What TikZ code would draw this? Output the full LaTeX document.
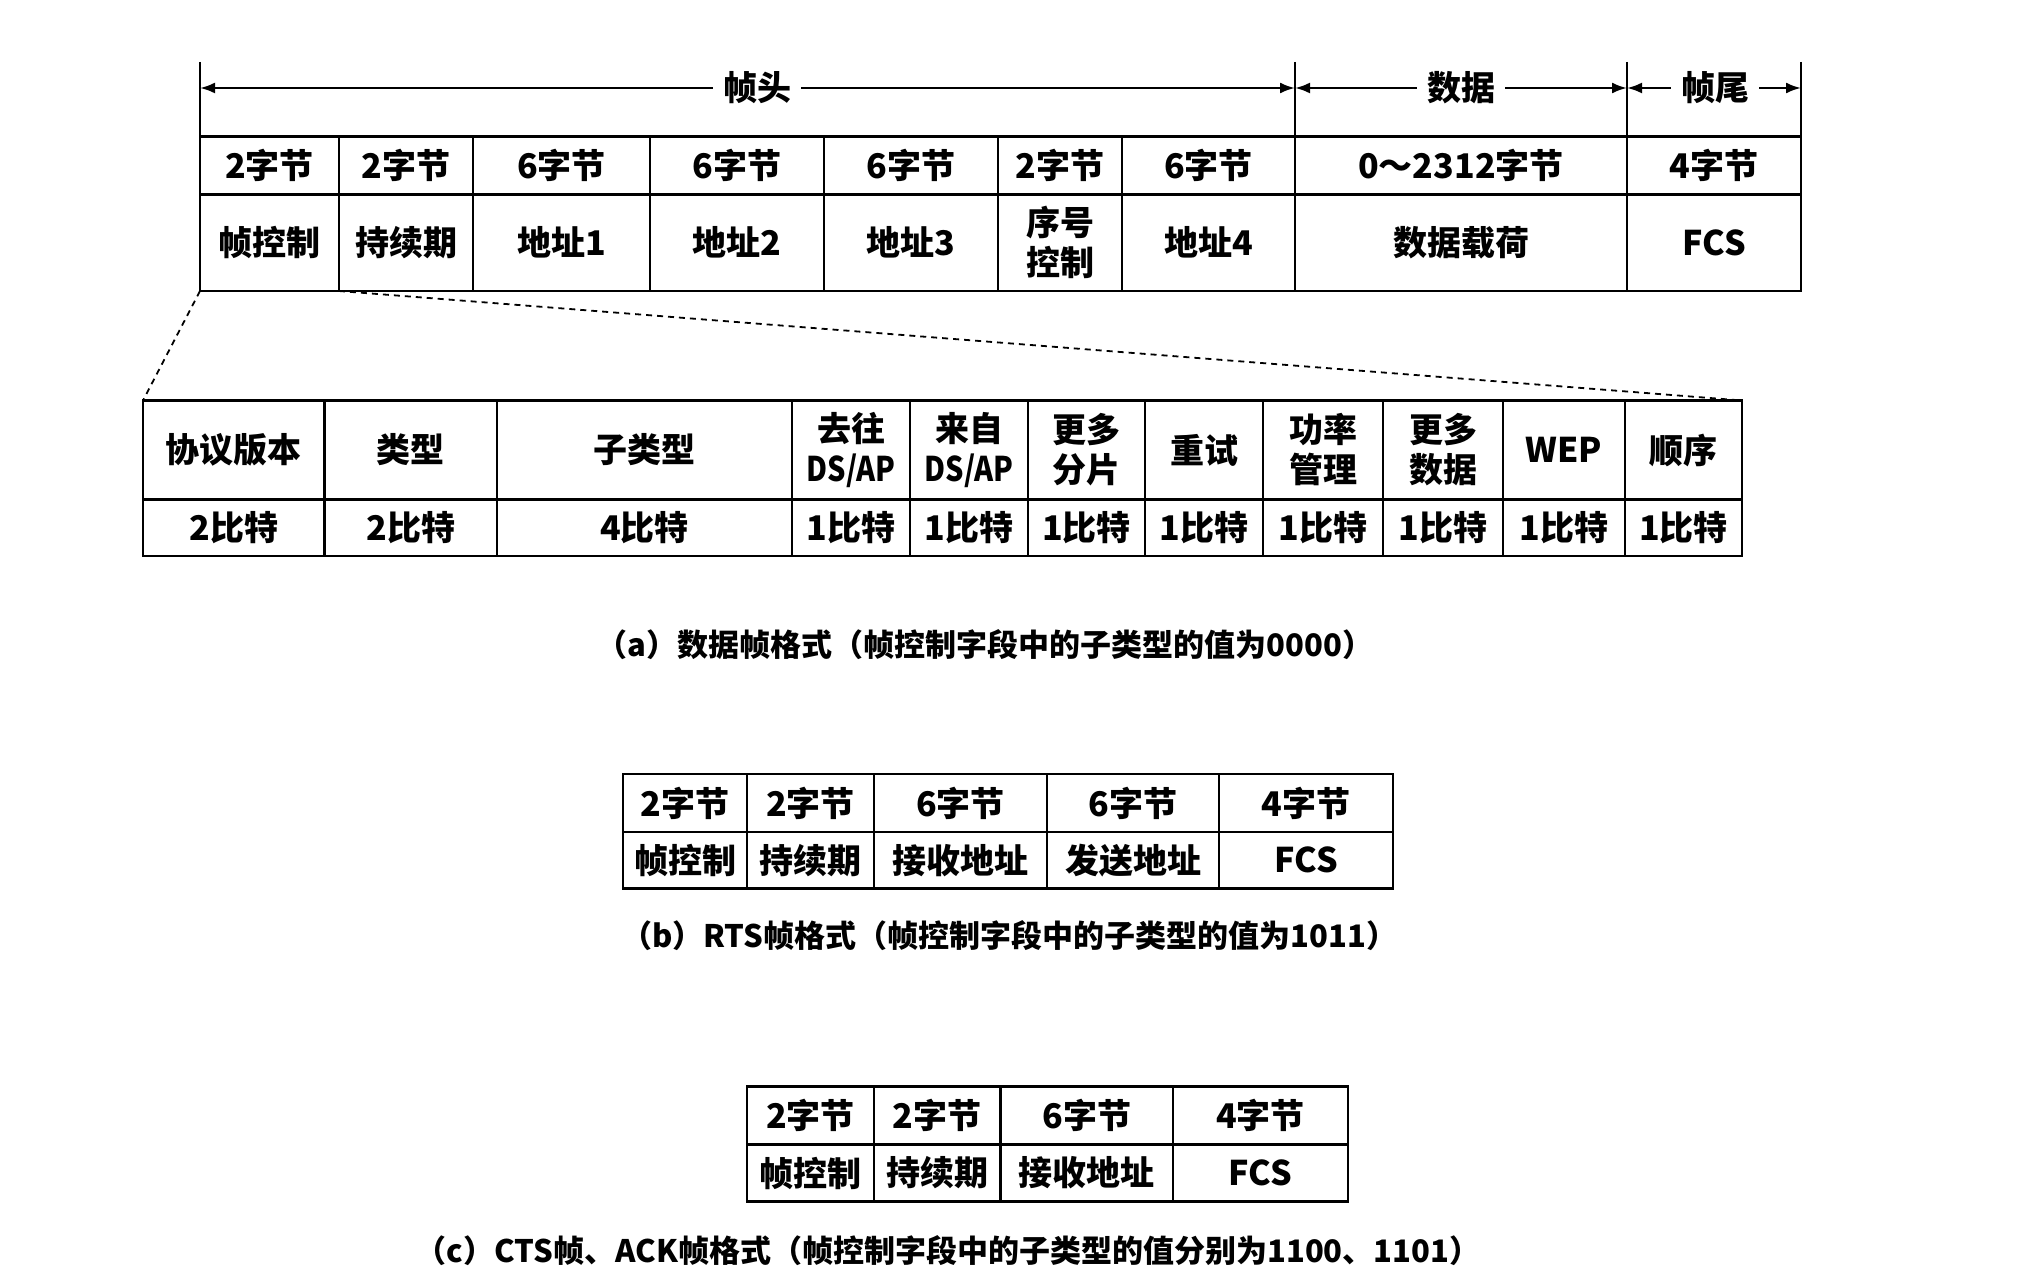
\documentclass[tikz,border=0pt]{standalone}
\usepackage{fontspec}
\setmainfont{Noto Sans CJK SC}
\usetikzlibrary{arrows.meta}
\newcommand\cellfont{\fontsize{17pt}{20pt}\selectfont\bfseries}
\newcommand\capfont{\fontsize{15.5pt}{18pt}\selectfont\bfseries}
\newcommand\narrowtxt[1]{\scalebox{0.85}[1]{#1}}
\tikzset{
  cellbox/.style={draw, line width=1.3pt, inner sep=0pt, outer sep=0pt, align=center, font=\cellfont},
  dimline/.style={line width=1.2pt, -{Latex[length=7.5pt,width=5.5pt]}},
  guide/.style={line width=1.1pt},
  zoomline/.style={line width=0.9pt, dash pattern=on 3pt off 2.5pt},
  dimlabel/.style={fill=white, inner xsep=5pt, inner ysep=2pt, font=\cellfont},
  captext/.style={font=\capfont, inner sep=0pt}
}
\newcommand\fcell[6]{\node[cellbox, minimum width={(#4-#2)*0.5pt}, minimum height={(#5-#3)*0.5pt}] (#1) at ({(#2+#4)/2},{(#3+#5)/2}) {#6};}
\begin{document}
\begin{tikzpicture}[x=0.5pt,y=-0.5pt]
\useasboundingbox[fill=white] (0,0) rectangle (2019,1279);

% ---------- top table ----------
\fcell{a1t}{200}{136.5}{339}{194.4}{2字节}
\fcell{a2t}{339}{136.5}{473}{194.4}{2字节}
\fcell{a3t}{473}{136.5}{650}{194.4}{6字节}
\fcell{a4t}{650}{136.5}{824}{194.4}{6字节}
\fcell{a5t}{824}{136.5}{998}{194.4}{6字节}
\fcell{a6t}{998}{136.5}{1122}{194.4}{2字节}
\fcell{a7t}{1122}{136.5}{1295}{194.4}{6字节}
\fcell{a8t}{1295}{136.5}{1627}{194.4}{0～2312字节}
\fcell{a9t}{1627}{136.5}{1801}{194.4}{4字节}
\fcell{a1b}{200}{194.4}{339}{291}{帧控制}
\fcell{a2b}{339}{194.4}{473}{291}{持续期}
\fcell{a3b}{473}{194.4}{650}{291}{地址1}
\fcell{a4b}{650}{194.4}{824}{291}{地址2}
\fcell{a5b}{824}{194.4}{998}{291}{地址3}
\fcell{a6b}{998}{194.4}{1122}{291}{序号\\控制}
\fcell{a7b}{1122}{194.4}{1295}{291}{地址4}
\fcell{a8b}{1295}{194.4}{1627}{291}{数据载荷}
\fcell{a9b}{1627}{194.4}{1801}{291}{FCS}

% boundary guides
\coordinate (g0) at (200,62);
\coordinate (g1) at (1295,62);
\coordinate (g2) at (1627,62);
\coordinate (g3) at (1801,62);
\draw[guide] (g0) -- (a1t.north west);
\draw[guide] (g1) -- (a8t.north west);
\draw[guide] (g2) -- (a9t.north west);
\draw[guide] (g3) -- (a9t.north east);

% dimension arrows
\node[dimlabel] (lhead) at (757,88) {帧头};
\node[dimlabel] (ldata) at (1461,88) {数据};
\node[dimlabel] (ltail) at (1715,88) {帧尾};
\draw[dimline] (lhead.west) -- (g0 |- lhead);
\draw[dimline] (lhead.east) -- (g1 |- lhead);
\draw[dimline] (ldata.west) -- (g1 |- ldata);
\draw[dimline] (ldata.east) -- (g2 |- ldata);
\draw[dimline] (ltail.west) -- (g2 |- ltail);
\draw[dimline] (ltail.east) -- (g3 |- ltail);

% ---------- frame control table ----------
\fcell{b1t}{143}{400.5}{324.5}{499.5}{协议版本}
\fcell{b2t}{324.5}{400.5}{497}{499.5}{类型}
\fcell{b3t}{497}{400.5}{792}{499.5}{子类型}
\fcell{b4t}{792}{400.5}{910}{499.5}{去往\\\narrowtxt{DS/AP}}
\fcell{b5t}{910}{400.5}{1028}{499.5}{来自\\\narrowtxt{DS/AP}}
\fcell{b6t}{1028}{400.5}{1145}{499.5}{更多\\分片}
\fcell{b7t}{1145}{400.5}{1263}{499.5}{重试}
\fcell{b8t}{1263}{400.5}{1383}{499.5}{功率\\管理}
\fcell{b9t}{1383}{400.5}{1503}{499.5}{更多\\数据}
\fcell{b10t}{1503}{400.5}{1625}{499.5}{WEP}
\fcell{b11t}{1625}{400.5}{1742}{499.5}{顺序}
\fcell{b1b}{143}{499.5}{324.5}{556}{2比特}
\fcell{b2b}{324.5}{499.5}{497}{556}{2比特}
\fcell{b3b}{497}{499.5}{792}{556}{4比特}
\fcell{b4b}{792}{499.5}{910}{556}{1比特}
\fcell{b5b}{910}{499.5}{1028}{556}{1比特}
\fcell{b6b}{1028}{499.5}{1145}{556}{1比特}
\fcell{b7b}{1145}{499.5}{1263}{556}{1比特}
\fcell{b8b}{1263}{499.5}{1383}{556}{1比特}
\fcell{b9b}{1383}{499.5}{1503}{556}{1比特}
\fcell{b10b}{1503}{499.5}{1625}{556}{1比特}
\fcell{b11b}{1625}{499.5}{1742}{556}{1比特}

\draw[zoomline] (a1b.south west) -- (b1t.north west);
\draw[zoomline] (a1b.south east) -- (b11t.north east);

\node[captext] (capa) at (985,645) {（a）数据帧格式（帧控制字段中的子类型的值为0000）};

% ---------- RTS table ----------
\fcell{c1t}{623}{774}{747}{832}{2字节}
\fcell{c2t}{747}{774}{874}{832}{2字节}
\fcell{c3t}{874}{774}{1047}{832}{6字节}
\fcell{c4t}{1047}{774}{1219}{832}{6字节}
\fcell{c5t}{1219}{774}{1393}{832}{4字节}
\fcell{c1b}{623}{832}{747}{888.5}{帧控制}
\fcell{c2b}{747}{832}{874}{888.5}{持续期}
\fcell{c3b}{874}{832}{1047}{888.5}{接收地址}
\fcell{c4b}{1047}{832}{1219}{888.5}{发送地址}
\fcell{c5b}{1219}{832}{1393}{888.5}{FCS}

\node[captext] (capb) at (1009,936) {（b）RTS帧格式（帧控制字段中的子类型的值为1011）};

% ---------- CTS / ACK table ----------
\fcell{d1t}{747}{1086.5}{874}{1144.5}{2字节}
\fcell{d2t}{874}{1086.5}{1000.5}{1144.5}{2字节}
\fcell{d3t}{1000.5}{1086.5}{1173}{1144.5}{6字节}
\fcell{d4t}{1173}{1086.5}{1348}{1144.5}{4字节}
\fcell{d1b}{747}{1144.5}{874}{1201.5}{帧控制}
\fcell{d2b}{874}{1144.5}{1000.5}{1201.5}{持续期}
\fcell{d3b}{1000.5}{1144.5}{1173}{1201.5}{接收地址}
\fcell{d4b}{1173}{1144.5}{1348}{1201.5}{FCS}

\node[captext] (capc) at (948,1251) {（c）CTS帧、ACK帧格式（帧控制字段中的子类型的值分别为1100、1101）};
\end{tikzpicture}
\end{document}
